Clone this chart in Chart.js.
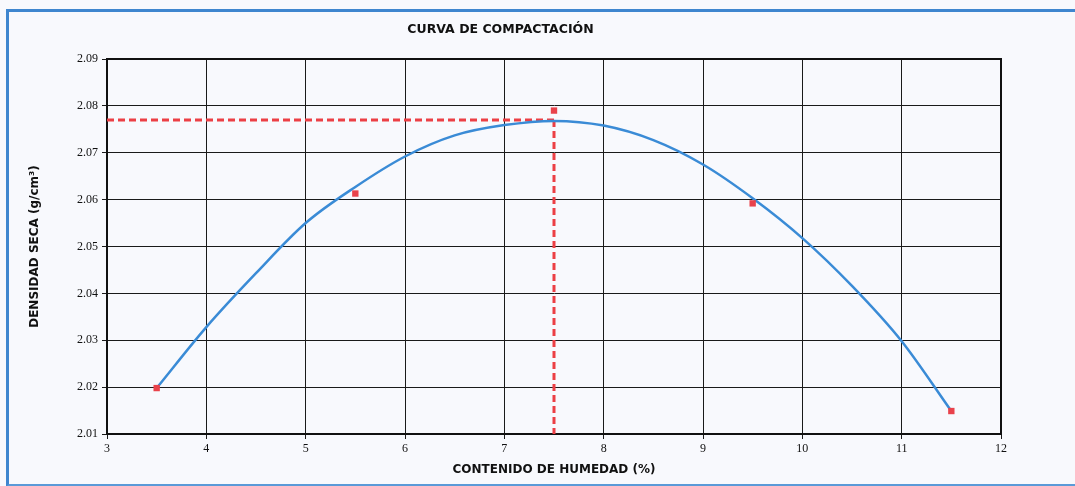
<!DOCTYPE html>
<html>
<head>
<meta charset="utf-8">
<script src="https://cdn.jsdelivr.net/npm/chart.js@4"></script>
<style>
  html, body { margin: 0; padding: 0; background: #f8f9fd; }
  #wrap { position: relative; width: 1075px; height: 486px; }
  #frame {
    position: absolute; left: 6px; top: 9px; width: 1100px; height: 472px;
    border-top: 3px solid #3f86cf; border-left: 3px solid #3f86cf; border-bottom: 3px solid #5a9ad8;
    pointer-events: none;
  }
</style>
</head>
<body>
<div id="wrap">
  <canvas id="myChart" width="1075" height="486"></canvas>
  <div id="frame"></div>
</div>
<script>
// ensayo proctor: puntos medidos
var humedad = [3.5, 5.5, 7.5, 9.5, 11.5];
var densidad = [2.0198, 2.0613, 2.0790, 2.0592, 2.0149];

// curva de ajuste leída punto a punto
var curva_x = [3.5, 4, 4.5, 5, 5.5, 6, 6.5, 7, 7.5, 8, 8.5, 9, 9.5, 10, 10.5, 11, 11.5];
var curva_y = [2.0198, 2.0328, 2.0443, 2.0550, 2.0627, 2.0692, 2.0737, 2.0759, 2.0768,
               2.0758, 2.0727, 2.0675, 2.0603, 2.0518, 2.0416, 2.0298, 2.0149];

// optimo: humedad y densidad maxima
var hum_optima = 7.5;
var dens_max = 2.077;

var x_ticks = [3, 4, 5, 6, 7, 8, 9, 10, 11, 12];
var y_ticks = [2.01, 2.02, 2.03, 2.04, 2.05, 2.06, 2.07, 2.08, 2.09];

function pairs(xs, ys) {
    return xs.map(function(x, i) { return {x: x, y: ys[i]}; });
}

// marco negro del area de trazado
var plot_border = {
    id: 'plot_border',
    beforeDatasetsDraw: function(chart) {
        var a = chart.chartArea;
        var ctx = chart.ctx;
        ctx.save();
        ctx.strokeStyle = '#111';
        ctx.lineWidth = 2;
        ctx.strokeRect(a.left, a.top, a.right - a.left, a.bottom - a.top);
        ctx.restore();
    }
};

function draw_chart() {
    const ctx = document.getElementById('myChart');
    var tick_font = {family: '"Liberation Serif", serif', size: 12};
    var title_font = {family: '"DejaVu Sans", sans-serif', size: 12, weight: 'bold'};
    new Chart(ctx, {
        type: 'scatter',
        data: {
            datasets: [{
                data: pairs(humedad, densidad),
                pointStyle: 'rect',
                pointRadius: 4.5,
                backgroundColor: '#e9424b',
                borderColor: '#e9424b',
                borderWidth: 0,
                order: 0
            }, {
                data: pairs(curva_x, curva_y),
                showLine: true,
                borderColor: '#3a8bd6',
                borderWidth: 2.5,
                pointRadius: 0,
                cubicInterpolationMode: 'monotone',
                order: 1
            }, {
                data: [{x: x_ticks[0], y: dens_max}, {x: hum_optima, y: dens_max}],
                showLine: true,
                borderColor: '#ec3f45',
                borderWidth: 3,
                borderDash: [7, 4],
                pointRadius: 0,
                order: 2
            }, {
                data: [{x: hum_optima, y: dens_max}, {x: hum_optima, y: y_ticks[0]}],
                showLine: true,
                borderColor: '#ec3f45',
                borderWidth: 3,
                borderDash: [7, 4],
                pointRadius: 0,
                order: 2
            }]
        },
        options: {
            responsive: false,
            animation: false,
            layout: {
                padding: {left: 0, right: 74, top: 0, bottom: 0}
            },
            plugins: {
                legend: {display: false},
                tooltip: {enabled: false},
                title: {
                    display: true,
                    text: 'CURVA DE COMPACTACIÓN',
                    color: '#111',
                    font: {family: '"DejaVu Sans", sans-serif', size: 12.5, weight: 'bold'},
                    padding: {top: 22, bottom: 22}
                }
            },
            scales: {
                x: {
                    type: 'linear',
                    min: x_ticks[0],
                    max: x_ticks[x_ticks.length - 1],
                    afterFit: function(scale) { scale.height = 52; },
                    afterBuildTicks: function(scale) {
                        scale.ticks = x_ticks.map(function(v) { return {value: v}; });
                    },
                    grid: {color: '#1a1a1a', lineWidth: 1, tickLength: 5},
                    border: {color: '#111', width: 2},
                    ticks: {color: '#111', font: tick_font, padding: 3, maxRotation: 0},
                    title: {
                        display: true,
                        text: 'CONTENIDO DE HUMEDAD (%)',
                        color: '#111',
                        font: title_font,
                        padding: {top: 0, bottom: 9}
                    }
                },
                y: {
                    type: 'linear',
                    min: y_ticks[0],
                    max: y_ticks[y_ticks.length - 1],
                    afterFit: function(scale) { scale.width = 107; },
                    afterBuildTicks: function(scale) {
                        scale.ticks = y_ticks.map(function(v) { return {value: v}; });
                    },
                    grid: {color: '#1a1a1a', lineWidth: 1, tickLength: 5},
                    border: {color: '#111', width: 2},
                    ticks: {
                        color: '#111',
                        font: tick_font,
                        padding: 4,
                        callback: function(value) { return value.toFixed(2); }
                    },
                    title: {
                        display: true,
                        text: 'DENSIDAD SECA (g/cm³)',
                        color: '#111',
                        font: title_font,
                        padding: {top: 28, bottom: 0}
                    }
                }
            }
        },
        plugins: [plot_border]
    });
}
draw_chart();
</script>
</body>
</html>
